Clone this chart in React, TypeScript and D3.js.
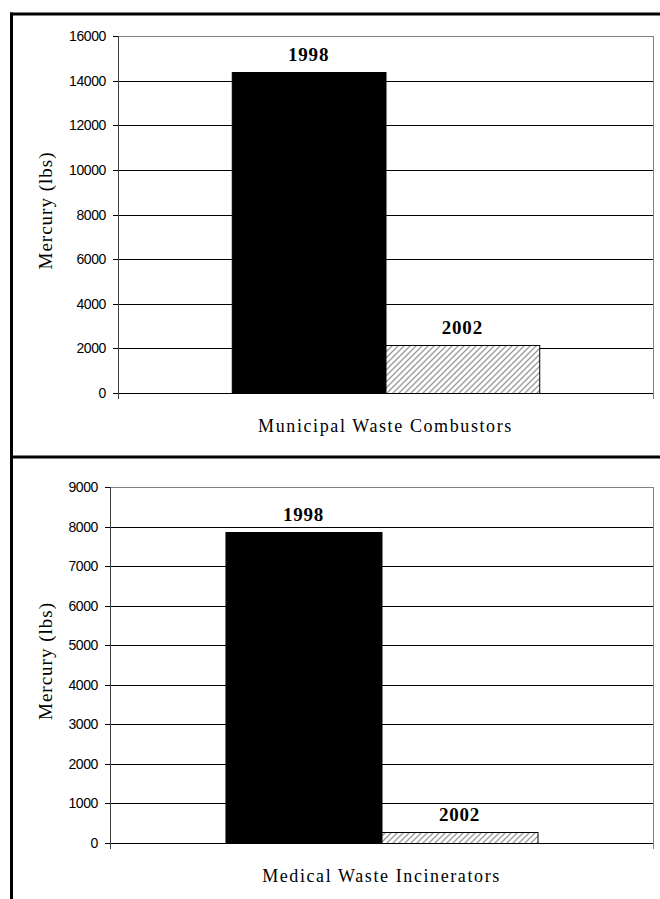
import React from "react";
import * as d3 from "d3";

const width = 660;
const height = 899;

const years = ["1998", "2002"];
const municipalValues = [14400, 2150];
const medicalValues = [7850, 280];
const municipalTicks = [0, 2000, 4000, 6000, 8000, 10000, 12000, 14000, 16000];
const medicalTicks = [0, 1000, 2000, 3000, 4000, 5000, 6000, 7000, 8000, 9000];
const categoryLabels = ["Municipal Waste Combustors", "Medical Waste Incinerators"];
const yTitle = "Mercury (lbs)";

const sans = "'Liberation Sans', Arial, sans-serif";
const serif = "'Liberation Serif', 'Times New Roman', serif";

type PanelProps = {
  values: number[];
  ticks: number[];
  label: string;
  plot: { left: number; right: number; top: number; bottom: number };
};

function Panel({ values, ticks, label, plot }: PanelProps) {
  const y = d3
    .scaleLinear()
    .domain([0, d3.max(ticks) as number])
    .range([plot.bottom, plot.top]);
  // excel style gap width ~148%
  const x = d3
    .scaleBand()
    .domain(years)
    .range([plot.left, plot.right])
    .paddingInner(0)
    .paddingOuter(0.74);

  const midX = (plot.left + plot.right) / 2;
  const midY = (plot.top + plot.bottom) / 2;

  return (
    <g>
      {/* gridlines */}
      {ticks.slice(0, -1).map((t) => (
        <line
          key={t}
          x1={plot.left - 5}
          x2={plot.right}
          y1={Math.round(y(t)) + 0.5}
          y2={Math.round(y(t)) + 0.5}
          stroke="#000"
          strokeWidth={1}
        />
      ))}
      {/* plot area border, top + right */}
      <line
        x1={plot.left}
        x2={plot.right}
        y1={Math.round(plot.top) + 0.5}
        y2={Math.round(plot.top) + 0.5}
        stroke="#808080"
      />
      <line
        x1={plot.left - 5}
        x2={plot.left}
        y1={Math.round(plot.top) + 0.5}
        y2={Math.round(plot.top) + 0.5}
        stroke="#000"
      />
      <line
        x1={plot.right + 0.5}
        x2={plot.right + 0.5}
        y1={plot.top}
        y2={plot.bottom + 6}
        stroke="#808080"
      />
      {/* bars */}
      {values.map((v, i) => (
        <rect
          key={years[i]}
          x={(x(years[i]) as number) + 0.5}
          y={Math.round(y(v)) + 0.5}
          width={x.bandwidth()}
          height={Math.round(plot.bottom) - Math.round(y(v))}
          fill={i === 0 ? "#000" : "url(#hatch)"}
          stroke="#000"
          strokeWidth={1}
        />
      ))}
      {/* value labels */}
      {values.map((v, i) => (
        <text
          key={"l" + years[i]}
          x={(x(years[i]) as number) + x.bandwidth() / 2}
          y={y(v) - 11}
          textAnchor="middle"
          fontFamily={serif}
          fontWeight="bold"
          fontSize={19}
          letterSpacing={0.8}
        >
          {years[i]}
        </text>
      ))}
      {/* y axis */}
      <line
        x1={plot.left + 0.5}
        x2={plot.left + 0.5}
        y1={plot.top}
        y2={plot.bottom + 6}
        stroke="#404040"
      />
      {ticks.map((t) => (
        <text
          key={"t" + t}
          x={plot.left - 12}
          y={y(t)}
          dy="0.36em"
          textAnchor="end"
          fontFamily={sans}
          fontSize={14}
          letterSpacing={-0.4}
          fill="#000"
        >
          {t}
        </text>
      ))}
      <text
        transform={`translate(52, ${midY - 4}) rotate(-90)`}
        textAnchor="middle"
        fontFamily={serif}
        fontSize={19}
        letterSpacing={1}
      >
        {yTitle}
      </text>
      <text
        x={midX}
        y={plot.bottom + 38.5}
        textAnchor="middle"
        fontFamily={serif}
        fontSize={18}
        letterSpacing={1.6}
      >
        {label}
      </text>
    </g>
  );
}

export default function App() {
  return (
    <div style={{ position: "absolute", left: 0, top: 0 }}>
      <svg width={width} height={height} style={{ display: "block", background: "#fff" }}>
        <defs>
          <pattern id="hatch" patternUnits="userSpaceOnUse" width={6} height={6}>
            <rect width={6} height={6} fill="#fff" />
            <path
              d="M0,6 L6,0 M-1.5,1.5 L1.5,-1.5 M4.5,7.5 L7.5,4.5"
              stroke="#9a9a9a"
              strokeWidth={1.3}
            />
          </pattern>
        </defs>
        <Panel
          values={municipalValues}
          ticks={municipalTicks}
          label={categoryLabels[0]}
          plot={{ left: 118, right: 653, top: 36, bottom: 393 }}
        />
        <Panel
          values={medicalValues}
          ticks={medicalTicks}
          label={categoryLabels[1]}
          plot={{ left: 110, right: 653, top: 487, bottom: 843 }}
        />
        {/* outer frames */}
        <line x1={11.5} x2={11.5} y1={12.5} y2={height} stroke="#000" strokeWidth={3} />
        <line x1={10} x2={width} y1={14} y2={14} stroke="#000" strokeWidth={3} />
        <line x1={10} x2={width} y1={457} y2={457} stroke="#000" strokeWidth={3} />
      </svg>
    </div>
  );
}
